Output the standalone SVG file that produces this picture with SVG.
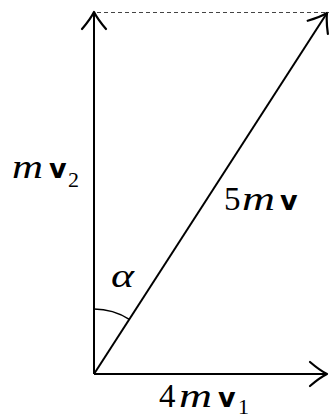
<svg xmlns="http://www.w3.org/2000/svg" width="329" height="416" viewBox="0 0 329 416">
<style>
.ln{stroke:#000;stroke-width:2;fill:none}
.arc{stroke:#000;stroke-width:1.6;fill:none}
.dash{stroke:#444;stroke-width:1;stroke-dasharray:4 3;fill:none}
.it{font-family:"Liberation Serif",serif;font-style:italic;font-size:34px}
.rm{font-family:"Liberation Serif",serif;font-size:33px}
.bv{font-family:"DejaVu Sans",sans-serif;font-weight:bold;font-size:27px}
.sub{font-family:"Liberation Serif",serif;font-size:22px}
text{fill:#000}
</style>
<defs>
<marker id="ah" markerUnits="userSpaceOnUse" markerWidth="40" markerHeight="40" refX="0" refY="0" viewBox="-20 -20 40 40" orient="auto" overflow="visible">
<path d="M -17 -12 C -10 -6 -4 -2 0 0 C -4 2 -10 6 -17 12" stroke="#000" stroke-width="2.2" fill="none" stroke-linecap="round" stroke-linejoin="round"/>
</marker>
</defs>
<g id="connectors">
<line class="dash" x1="97" y1="12.5" x2="329" y2="12.5"/>
<line class="ln" x1="94" y1="374" x2="94" y2="12" marker-end="url(#ah)"/>
<line class="ln" x1="94" y1="374" x2="327" y2="374" marker-end="url(#ah)"/>
<line class="ln" x1="94" y1="374" x2="327" y2="13" marker-end="url(#ah)"/>
<path class="arc" d="M 94 309 A 65 65 0 0 1 129.3 319.4"/>
</g>
<g id="label-mv2">
<text y="178"><tspan class="it" x="12" textLength="31" lengthAdjust="spacingAndGlyphs">m</tspan><tspan class="bv" x="49">v</tspan><tspan class="sub" x="68" y="187">2</tspan></text>
</g>
<g id="label-5mv">
<text y="210"><tspan class="rm" x="224">5</tspan><tspan class="it" x="242" textLength="33" lengthAdjust="spacingAndGlyphs">m</tspan><tspan class="bv" x="280">v</tspan></text>
</g>
<g id="label-4mv1">
<text y="407"><tspan class="rm" x="159">4</tspan><tspan class="it" x="179" textLength="33" lengthAdjust="spacingAndGlyphs">m</tspan><tspan class="bv" x="218">v</tspan><tspan class="sub" x="238" y="414">1</tspan></text>
</g>
<g id="label-alpha">
<text class="it" x="111" y="287" textLength="23" lengthAdjust="spacingAndGlyphs">α</text>
</g>
</svg>
